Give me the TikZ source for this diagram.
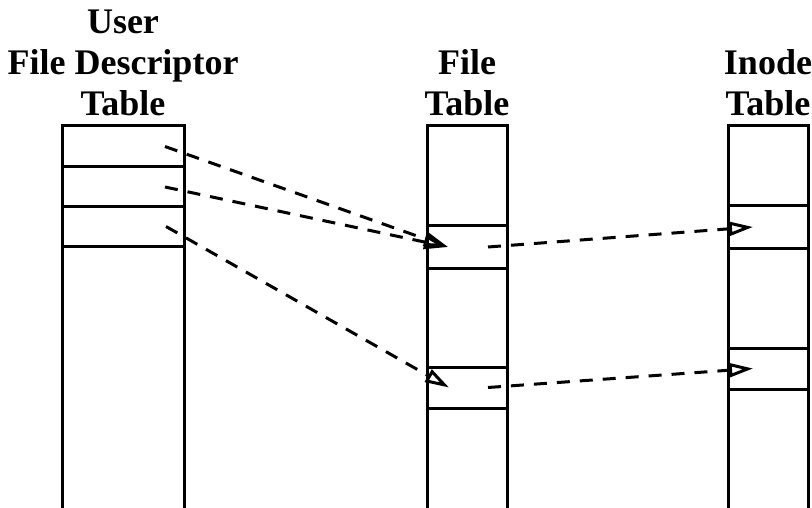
\documentclass[tikz,border=0pt]{standalone}
\usepackage{fontspec}
\setmainfont{Liberation Serif}
\usetikzlibrary{arrows.meta}
\usetikzlibrary{positioning}

\begin{document}
\begin{tikzpicture}[x=1pt,y=-1pt,
			every node/.style={inner sep=0pt},
			column/.style={line width=3pt},
			slot/.style={draw,line width=3pt,outer sep=0pt,anchor=north west},
			head/.style={font=\fontsize{36}{41}\selectfont\bfseries,align=center,anchor=south},
			ptr/.style={line width=3pt,dash pattern=on 13pt off 10pt,
				-{Triangle[open,length=24pt,width=14pt,line width=3pt]}}]
			\useasboundingbox (0,0) rectangle (812,508);
			
			% headings
			\node[head] (ufdt) at (123,116) {User\\File Descriptor\\Table};
			\node[head] (ft) at (467,116) {File\\Table};
			\node[head] (it) at (768,116) {Inode\\Table};
			
			% the three tables
			\draw[column] (62,126) rectangle (184,530);
			\draw[column] (427,126) rectangle (507,530);
			\draw[column] (728,126) rectangle (808,530);
			
			\node[slot,minimum width=122pt,minimum height=41pt] (u1) at (62,126) {};
			\node[slot,minimum width=122pt,minimum height=40pt,below=0pt of u1] (u2) {};
			\node[slot,minimum width=122pt,minimum height=39pt,below=0pt of u2] (u3) {};
			
			\node[slot,minimum width=80pt,minimum height=42pt] (f1) at (427,226) {};
			\node[slot,minimum width=80pt,minimum height=41pt] (f2) at (427,367) {};
			
			\node[slot,minimum width=80pt,minimum height=42pt] (i1) at (728,206) {};
			\node[slot,minimum width=80pt,minimum height=41pt] (i2) at (728,348) {};
			
			% pointers
			\draw[ptr] ([xshift=-19pt]u1.east) -- ([xshift=21pt]f1.west);
			\draw[ptr] ([xshift=-19pt]u2.east) -- ([xshift=21pt]f1.west);
			\draw[ptr] ([xshift=-18pt]u3.east) -- ([xshift=22pt]f2.west);
			\draw[ptr] ([xshift=-19pt]f1.east) -- ([xshift=25pt]i1.west);
			\draw[ptr] ([xshift=-19pt]f2.east) -- ([xshift=25pt]i2.west);
		\end{tikzpicture}
\end{document}
